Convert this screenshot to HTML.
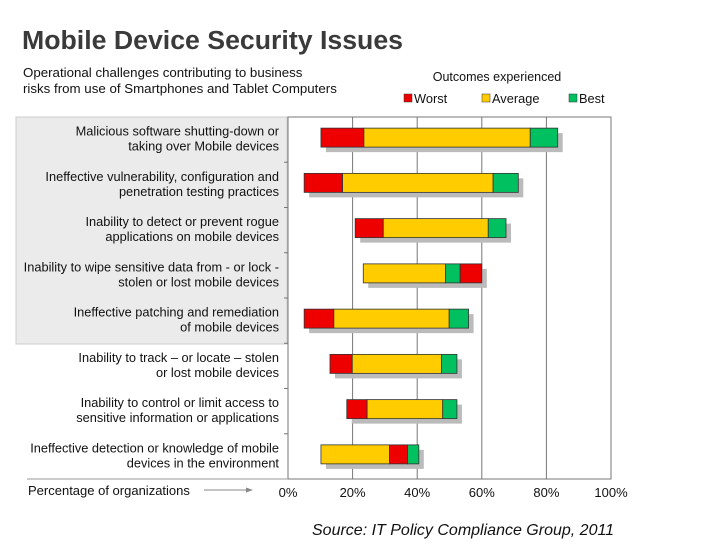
<!DOCTYPE html>
<html><head><meta charset="utf-8"><style>
body{margin:0;width:728px;height:546px;background:#fff;overflow:hidden;font-family:"Liberation Sans",sans-serif;}
</style></head><body>
<svg width="728" height="546" xmlns="http://www.w3.org/2000/svg" font-family="Liberation Sans, sans-serif">
<text x="22" y="49" font-size="25.5" font-weight="bold" fill="#3a3a3a" textLength="381" lengthAdjust="spacingAndGlyphs">Mobile Device Security Issues</text>
<text x="23" y="77" font-size="13.3" fill="#111">Operational challenges contributing to business</text>
<text x="23" y="93" font-size="13.3" fill="#111">risks from use of Smartphones and Tablet Computers</text>
<text x="497" y="81" font-size="12.5" text-anchor="middle" fill="#111">Outcomes experienced</text>
<g font-size="12.8" fill="#111">
<rect x="404" y="94" width="8" height="8" fill="#ee0000" stroke="#333" stroke-width="0.5"/><text x="414" y="103">Worst</text>
<rect x="482" y="94" width="8" height="8" fill="#ffcc00" stroke="#333" stroke-width="0.5"/><text x="492" y="103">Average</text>
<rect x="569" y="94" width="8" height="8" fill="#00c060" stroke="#333" stroke-width="0.5"/><text x="579" y="103">Best</text>
</g>
<rect x="16" y="117" width="271" height="227" fill="#ebebeb" stroke="#ccc" stroke-width="1"/>
<g id="chart"></g>
<text x="28" y="495" font-size="13" fill="#111">Percentage of organizations</text>
<line x1="204" y1="490" x2="248" y2="490" stroke="#888" stroke-width="1"/>
<polygon points="253,490 246,487.5 246,492.5" fill="#888"/>
<text x="312" y="535" font-size="16" font-style="italic" fill="#111">Source: IT Policy Compliance Group, 2011</text>
</svg>
<script>
const categories=[
["Malicious software shutting-down or","taking over Mobile devices"],
["Ineffective vulnerability, configuration and","penetration testing practices"],
["Inability to detect or prevent rogue","applications on mobile devices"],
["Inability to wipe sensitive data from - or lock -","stolen or lost mobile devices"],
["Ineffective patching and remediation","of mobile devices"],
["Inability to track \u2013 or locate \u2013 stolen","or lost mobile devices"],
["Inability to control or limit access to","sensitive information or applications"],
["Ineffective detection or knowledge of mobile","devices in the environment"]];
const starts=[10.2,5,20.8,23.3,5,13,18.2,10.2];
const worst=[13.3,11.9,8.7,6.7,9.2,6.9,6.3,5.6];
const average=[51.5,46.6,32.5,25.5,35.7,27.6,23.4,21.2];
const best=[8.5,7.8,5.5,4.5,6,4.8,4.4,3.5];
const segmentOrder=[["w","a","b"],["w","a","b"],["w","a","b"],["a","b","w"],["w","a","b"],["w","a","b"],["w","a","b"],["a","w","b"]];
const tickLabels=["0%","20%","40%","60%","80%","100%"];
const tickValues=[0,20,40,60,80,100];

const NS="http://www.w3.org/2000/svg";
const g=document.getElementById('chart');
const X0=288,X1=611,Y0=117,Y1=479;
const x=v=>X0+(X1-X0)*v/100;
const rowH=(Y1-Y0)/categories.length;
const yc=i=>Y0+rowH*(i+0.5)-2;
function mk(t,a){const e=document.createElementNS(NS,t);for(const k in a)e.setAttribute(k,a[k]);g.appendChild(e);return e;}
let e;
e=mk('rect',{x:X0,y:Y0,width:X1-X0,height:Y1-Y0,fill:'#fff',stroke:'#777','stroke-width':1});


tickValues.forEach((v,i)=>{
 if(i>0&&i<tickValues.length-1){e=mk('line',{x1:x(v),y1:Y0,x2:x(v),y2:Y1,stroke:'#777','stroke-width':1});
 
 }
 e=mk('text',{x:x(v),y:497,'font-size':13,'text-anchor':'middle',fill:'#111'});e.textContent=tickLabels[i];
 
 
});
e=mk('line',{x1:27,y1:Y1,x2:X0,y2:Y1,stroke:'#999','stroke-width':1});


for(let i=1;i<categories.length;i++){e=mk('line',{x1:X0-4,y1:Y0+rowH*i,x2:X0,y2:Y0+rowH*i,stroke:'#777'});
 
 }
const colors={w:'#ee0000',a:'#ffcc00',b:'#00c060'};
const names={w:'worst',a:'average',b:'best'};
categories.forEach((c,i)=>{
 const cy=yc(i);
 c.forEach((ln,j)=>{e=mk('text',{x:279,y:cy-2+j*15,'font-size':12.8,'text-anchor':'end',fill:'#111'});e.textContent=ln;
  
  });
 const vals={w:worst[i],a:average[i],b:best[i]};
 const total=worst[i]+average[i]+best[i];
 const bh=19,by=cy-bh/2;
 e=mk('rect',{x:x(starts[i])+5,y:by+5,width:x(starts[i]+total)-x(starts[i]),height:bh,fill:'#bbb'});
 
 
 let s=starts[i];
 segmentOrder[i].forEach(k=>{
  e=mk('rect',{x:x(s),y:by,width:x(s+vals[k])-x(s),height:bh,fill:colors[k],stroke:'#333','stroke-width':0.8});
  
  
  s+=vals[k];
 });
});
</script>
</body></html>
